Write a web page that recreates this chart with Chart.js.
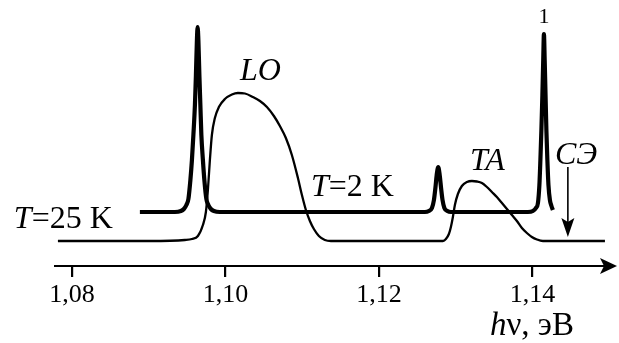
<!DOCTYPE html>
<html><head><meta charset="utf-8">
<script src="https://cdn.jsdelivr.net/npm/chart.js@4.4.1/dist/chart.umd.min.js"></script>
<style>html,body{margin:0;padding:0;background:#fff}#w{width:619px;height:343px;position:relative}</style>
</head><body><div id="w"><canvas id="c"></canvas></div>
<script>
// Photon energy (eV) and PL intensity (arb. units), T = 25 K (thin curve)
const energyT25 = [1.07818, 1.09016, 1.09472, 1.09564, 1.09642, 1.09707, 1.09746, 1.09772, 1.09798, 1.09824,
  1.09863, 1.09915, 1.09993, 1.10085, 1.10163, 1.10254, 1.10358, 1.10450, 1.10541, 1.10632,
  1.10710, 1.10788, 1.10866, 1.10945, 1.10997, 1.11049, 1.11101, 1.11153, 1.11218, 1.11296,
  1.11375, 1.12834, 1.12873, 1.12912, 1.12938, 1.12964, 1.12990, 1.13029, 1.13081, 1.13147,
  1.13212, 1.13277, 1.13342, 1.13407, 1.13472, 1.13537, 1.13603, 1.13668, 1.13733, 1.13798,
  1.13863, 1.13928, 1.13993, 1.14059, 1.14137, 1.14945];
const intensityT25 = [0, 0, 0.1, 0.2, 0.5, 1.6, 2.9, 5.1, 8.1, 10.6,
  12.3, 13.4, 14.2, 14.65, 14.8, 14.75, 14.4, 14.0, 13.4, 12.5,
  11.5, 10.3, 8.6, 6.3, 4.6, 3.1, 2.0, 1.2, 0.5, 0.1,
  0, 0, 0.2, 0.7, 1.4, 2.4, 3.6, 4.7, 5.5, 5.9,
  6.0, 5.95, 5.8, 5.4, 4.9, 4.4, 3.8, 3.2, 2.6, 2.0,
  1.3, 0.8, 0.4, 0.15, 0, 0];

// T = 2 K (thick curve), offset upward
const energyT2 = [1.08886, 1.09342, 1.09420, 1.09459, 1.09492, 1.09518, 1.09544, 1.09564, 1.09583, 1.09603,
  1.09616, 1.09629, 1.09638, 1.09648, 1.09661, 1.09674, 1.09687, 1.09707, 1.09726, 1.09752,
  1.09778, 1.09811, 1.09850, 1.09928,
  1.12599, 1.12651, 1.12691, 1.12717, 1.12736, 1.12753, 1.12773, 1.12792, 1.12810, 1.12829,
  1.12853, 1.12892, 1.12938,
  1.13941, 1.14006, 1.14046, 1.14072, 1.14091, 1.14104, 1.14117, 1.14130, 1.14141, 1.14150,
  1.14160, 1.14171, 1.14182, 1.14195, 1.14209, 1.14228, 1.14248, 1.14267];
const intensityT2 = [2.9, 2.9, 3.0, 3.2, 3.6, 4.2, 6.1, 8.1, 10.6, 13.6,
  16.6, 20.1, 21.4, 20.1, 16.6, 13.6, 10.6, 8.1, 6.1, 4.2,
  3.6, 3.2, 3.0, 2.9,
  2.9, 3.0, 3.3, 4.1, 5.3, 6.6, 7.4, 6.6, 5.3, 4.1,
  3.3, 3.0, 2.9,
  2.9, 3.0, 3.3, 3.8, 5.6, 8.1, 11.1, 14.6, 18.1, 20.7,
  18.1, 14.6, 11.1, 8.1, 5.6, 4.1, 3.5, 3.1];

const xTickValues = [1.08, 1.10, 1.12, 1.14];
const xRange = [1.0778, 1.1505];
const yRange = [-2.5, 24.1];
const seriesNames = ['T=25 K', 'T=2 K'];

const SERIF = '"Liberation Serif", "DejaVu Serif", serif';

function zip(xs, ys) { return xs.map((x, i) => ({ x: x, y: ys[i] })); }

function drawRich(ctx, parts, x, y, size, align) {
  let total = 0;
  const fonts = parts.map(p => (p[1] ? 'italic ' : '') + size + 'px ' + SERIF);
  parts.forEach((p, i) => { ctx.font = fonts[i]; total += ctx.measureText(p[0]).width; });
  let cx = align === 'center' ? x - total / 2 : x;
  ctx.textBaseline = 'alphabetic';
  ctx.textAlign = 'left';
  parts.forEach((p, i) => { ctx.font = fonts[i]; ctx.fillText(p[0], cx, y); cx += ctx.measureText(p[0]).width; });
}

const annotations = [
  { e: 1.10189, v: 16.1, size: 32, parts: [['LO', true]] },
  { e: 1.11114, v: 4.5, size: 32, parts: [['T', true], ['=2 K', false]] },
  { e: 1.07244, v: 1.3, size: 32, parts: [['T', true], ['=25 K', false]] },
  { e: 1.13186, v: 7.1, size: 32, parts: [['TA', true]] },
  { e: 1.14293, v: 7.7, size: 32, parts: [['СЭ', true]] },
  { e: 1.14150, v: 21.8, size: 22, parts: [['1', false]], align: 'center' },
  { e: 1.13446, v: -9.4, size: 33, parts: [['h', true], ['ν, эВ', false]] }
];
const markerArrow = { e: 1.14462, from: 7.4, to: 0.4 };

const annotate = {
  id: 'annotate',
  afterDraw(chart) {
    const ctx = chart.ctx, xs = chart.scales.x, ys = chart.scales.y;
    ctx.save();
    ctx.fillStyle = '#000';
    ctx.strokeStyle = '#000';
    annotations.forEach(a => drawRich(ctx, a.parts, xs.getPixelForValue(a.e), ys.getPixelForValue(a.v), a.size, a.align));
    const ay = chart.chartArea.bottom;
    // tick marks below the axis
    xTickValues.forEach(v => {
      const tx = Math.round(xs.getPixelForValue(v));
      ctx.fillRect(tx - 1, ay, 2.2, 11);
    });
    // axis arrowhead
    const ax = chart.chartArea.right + 4;
    ctx.beginPath();
    ctx.moveTo(ax, ay); ctx.lineTo(ax - 17, ay - 8); ctx.lineTo(ax - 13, ay); ctx.lineTo(ax - 17, ay + 8);
    ctx.closePath(); ctx.fill();
    // marker arrow
    const mx = xs.getPixelForValue(markerArrow.e);
    const y0 = ys.getPixelForValue(markerArrow.from), y1 = ys.getPixelForValue(markerArrow.to);
    ctx.lineWidth = 1.6;
    ctx.beginPath(); ctx.moveTo(mx, y0); ctx.lineTo(mx, y1 - 12); ctx.stroke();
    ctx.beginPath();
    ctx.moveTo(mx, y1); ctx.lineTo(mx - 6.5, y1 - 19); ctx.lineTo(mx, y1 - 15); ctx.lineTo(mx + 6.5, y1 - 19);
    ctx.closePath(); ctx.fill();
    ctx.restore();
  }
};

new Chart(document.getElementById('c'), {
  type: 'line',
  data: {
    datasets: [
      { label: seriesNames[0], data: zip(energyT25, intensityT25), borderColor: '#000', borderWidth: 2.3,
        pointRadius: 0, fill: false, cubicInterpolationMode: 'monotone', clip: false },
      { label: seriesNames[1], data: zip(energyT2, intensityT2), borderColor: '#000', borderWidth: 4.2,
        pointRadius: 0, fill: false, cubicInterpolationMode: 'monotone', clip: false }
    ]
  },
  options: {
    responsive: true, maintainAspectRatio: false, animation: false, devicePixelRatio: 1,
    layout: { padding: { left: 55, right: 6, top: 0, bottom: 0 } },
    plugins: { legend: { display: false }, tooltip: { enabled: false } },
    scales: {
      x: {
        type: 'linear', min: xRange[0], max: xRange[1],
        afterBuildTicks: s => { s.ticks = xTickValues.map(v => ({ value: v })); },
        afterFit: s => { s.height = 77; },
        grid: { drawOnChartArea: false, drawTicks: true, tickLength: 10, color: '#000', lineWidth: 2 },
        border: { display: true, color: '#000', width: 2 },
        ticks: { color: '#000', font: { family: SERIF, size: 26 }, padding: 4, maxRotation: 0, autoSkip: false,
          callback: v => Number(v).toFixed(2).replace('.', ',') }
      },
      y: { display: false, min: yRange[0], max: yRange[1] }
    }
  },
  plugins: [annotate]
});
</script></body></html>
